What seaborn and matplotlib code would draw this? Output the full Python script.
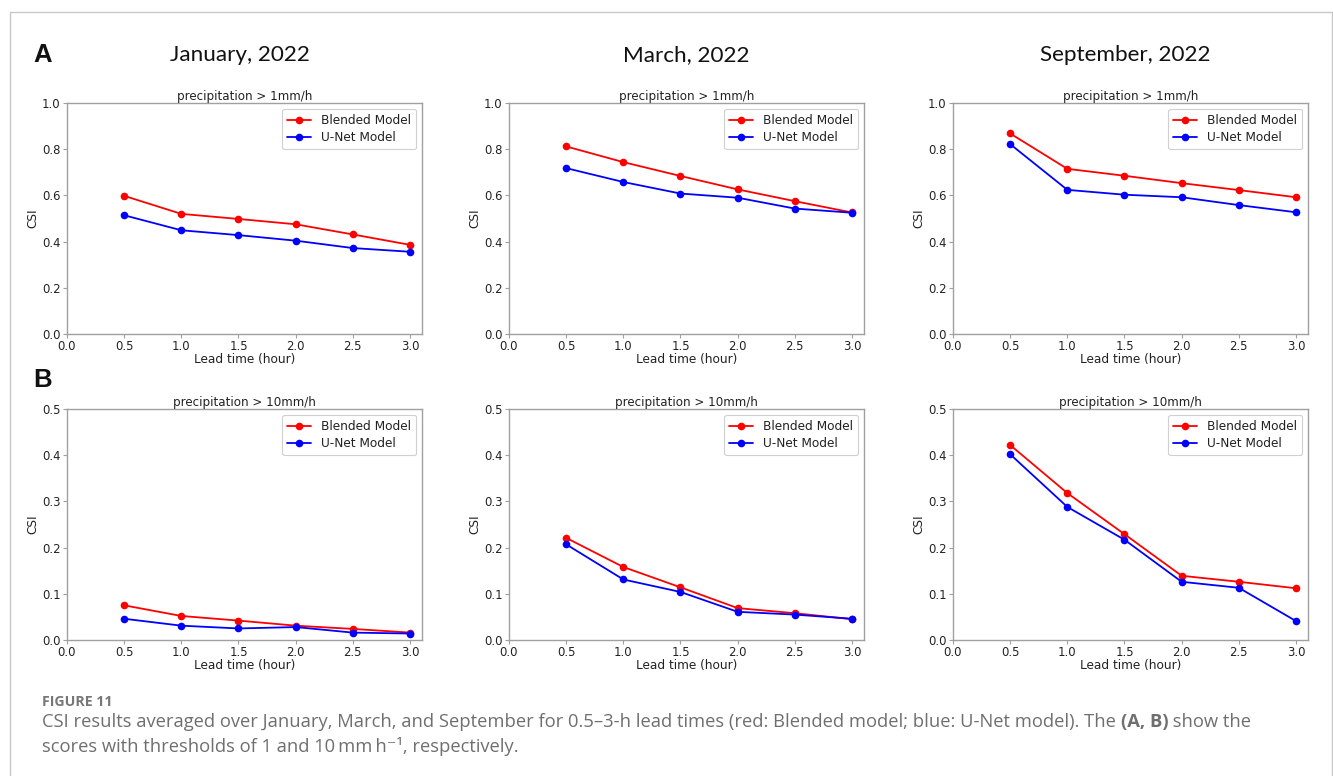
import numpy as np
import pandas as pd
import matplotlib
matplotlib.use("Agg")
import matplotlib.pyplot as plt
from matplotlib.lines import Line2D
import seaborn as sns

# ---------------- data ----------------
lead_time = [0.5, 1.0, 1.5, 2.0, 2.5, 3.0]
months = ["January, 2022", "March, 2022", "September, 2022"]
thresholds = ["precipitation > 1mm/h", "precipitation > 10mm/h"]
models = ["Blended Model", "U-Net Model"]
row_letters = ["A", "B"]

jan_1mm_blended = [0.598, 0.520, 0.498, 0.475, 0.431, 0.386]
jan_1mm_unet = [0.514, 0.449, 0.428, 0.404, 0.372, 0.356]
mar_1mm_blended = [0.812, 0.744, 0.684, 0.626, 0.575, 0.526]
mar_1mm_unet = [0.718, 0.658, 0.608, 0.590, 0.543, 0.525]
sep_1mm_blended = [0.868, 0.715, 0.685, 0.653, 0.623, 0.592]
sep_1mm_unet = [0.822, 0.624, 0.603, 0.592, 0.558, 0.527]

jan_10mm_blended = [0.075, 0.052, 0.042, 0.031, 0.024, 0.016]
jan_10mm_unet = [0.046, 0.031, 0.025, 0.028, 0.016, 0.014]
mar_10mm_blended = [0.221, 0.158, 0.114, 0.069, 0.058, 0.045]
mar_10mm_unet = [0.207, 0.131, 0.104, 0.061, 0.055, 0.046]
sep_10mm_blended = [0.422, 0.318, 0.229, 0.139, 0.126, 0.112]
sep_10mm_unet = [0.402, 0.288, 0.217, 0.126, 0.113, 0.041]

panel_data = [
    [(jan_1mm_blended, jan_1mm_unet), (mar_1mm_blended, mar_1mm_unet), (sep_1mm_blended, sep_1mm_unet)],
    [(jan_10mm_blended, jan_10mm_unet), (mar_10mm_blended, mar_10mm_unet), (sep_10mm_blended, sep_10mm_unet)],
]
y_max = [1.0, 0.5]
y_step = [0.2, 0.1]

caption_head = "FIGURE 11"
caption_l1a = "CSI results averaged over January, March, and September for 0.5\u20133-h lead times (red: Blended model; blue: U-Net model). The "
caption_l1b = "(A, B)"
caption_l1c = " show the"
caption_l2 = "scores with thresholds of 1 and 10\u2009mm\u2009h\u207b\u00b9, respectively."

# ---------------- style ----------------
sns.set_theme(style="ticks")
plt.rcParams["font.family"] = ["DejaVu Sans"]

W, H = 1333, 776
fig = plt.figure(figsize=(W / 100, H / 100), dpi=100)
fig.patch.set_facecolor("white")

palette = {models[0]: "#ff0000", models[1]: "#0000ff"}
spine_col = "#a0a0a0"
txt_col = "#222222"

col_left = [67, 509, 953]
row_top = [103, 409]
ax_w, ax_h = 355, 231

for r in range(2):
    for c in range(3):
        l = col_left[c] / W
        b = 1 - (row_top[r] + ax_h) / H
        ax = fig.add_axes([l, b, ax_w / W, ax_h / H])
        bl, un = panel_data[r][c]
        df = pd.DataFrame({
            "Lead time": lead_time * 2,
            "CSI": list(bl) + list(un),
            "Model": [models[0]] * len(lead_time) + [models[1]] * len(lead_time),
        })
        sns.lineplot(data=df, x="Lead time", y="CSI", hue="Model", palette=palette,
                     marker="o", markersize=5.5, markeredgewidth=0, linewidth=1.3,
                     ax=ax, legend=False)
        ax.set_xlim(0, 3.105)
        ax.set_ylim(0, y_max[r])
        ax.set_xticks(np.arange(0, 3.01, 0.5))
        ax.set_yticks(np.arange(0, y_max[r] + 1e-9, y_step[r]))
        ax.xaxis.set_major_formatter(matplotlib.ticker.FormatStrFormatter("%.1f"))
        ax.yaxis.set_major_formatter(matplotlib.ticker.FormatStrFormatter("%.1f"))
        ax.tick_params(labelsize=8.4, colors=txt_col, length=3, width=0.8, pad=1.5)
        ax.tick_params(color=spine_col)
        for s in ax.spines.values():
            s.set_color(spine_col)
            s.set_linewidth(1.0)
        ax.set_xlabel("Lead time (hour)", fontsize=8.7, color=txt_col, labelpad=0)
        ax.set_ylabel("CSI", fontsize=8.7, color=txt_col, labelpad=2)
        ax.set_title(thresholds[r], fontsize=8.6, color=txt_col, pad=2)
        handles = [Line2D([], [], color=palette[m], marker="o", markersize=5.5,
                          markeredgewidth=0, linewidth=1.3) for m in models]
        leg = ax.legend(handles, models, loc="upper right", fontsize=8.7, frameon=True,
                        fancybox=True, edgecolor="#d0d0d0", framealpha=1,
                        borderpad=0.4, handlelength=2.0, labelspacing=0.35,
                        borderaxespad=0.5)
        leg.get_frame().set_linewidth(0.8)
        for t in leg.get_texts():
            t.set_color(txt_col)

# column titles and row letters
col_centers = [240, 686, 1125]
for c, m in enumerate(months):
    fig.text(col_centers[c] / W, 1 - 55 / H, m, ha="center", va="center",
             fontsize=16.2, family=["Lato", "DejaVu Sans"], color="#111111")
row_letter_y = [55, 380]
for r, t in enumerate(row_letters):
    fig.text(33 / W, 1 - row_letter_y[r] / H, t, ha="left", va="center",
             fontsize=18.5, fontweight="bold", family=["Liberation Sans", "DejaVu Sans"],
             color="#111111")

# frame border
frame_col = "#c8c8c8"
fig.add_artist(Line2D([9.5 / W, 9.5 / W], [0, 1 - 11.5 / H], color=frame_col, lw=1))
fig.add_artist(Line2D([9.5 / W, 1331.5 / W], [1 - 11.5 / H, 1 - 11.5 / H], color=frame_col, lw=1))
fig.add_artist(Line2D([1331.5 / W, 1331.5 / W], [0, 1 - 11.5 / H], color=frame_col, lw=1))

# caption
cap_col = "#6f6f6f"
cap_fam = ["Open Sans", "DejaVu Sans"]
fig.text(42 / W, 1 - 702 / H, caption_head, ha="left", va="center", fontsize=10.2,
         fontweight="bold", family=cap_fam, color="#777777")
renderer = fig.canvas.get_renderer()
x = 42 / W
y1 = 1 - 722 / H
for txt, wt in [(caption_l1a, "normal"), (caption_l1b, "bold"), (caption_l1c, "normal")]:
    t = fig.text(x, y1, txt, ha="left", va="center", fontsize=13.2, fontweight=wt,
                 family=cap_fam, color=cap_col)
    bb = t.get_window_extent(renderer)
    x = bb.x1 / W
fig.text(42 / W, 1 - 746 / H, caption_l2, ha="left", va="center", fontsize=13.2,
         family=cap_fam, color=cap_col)

fig.savefig("out.png", dpi=100, facecolor="white")
